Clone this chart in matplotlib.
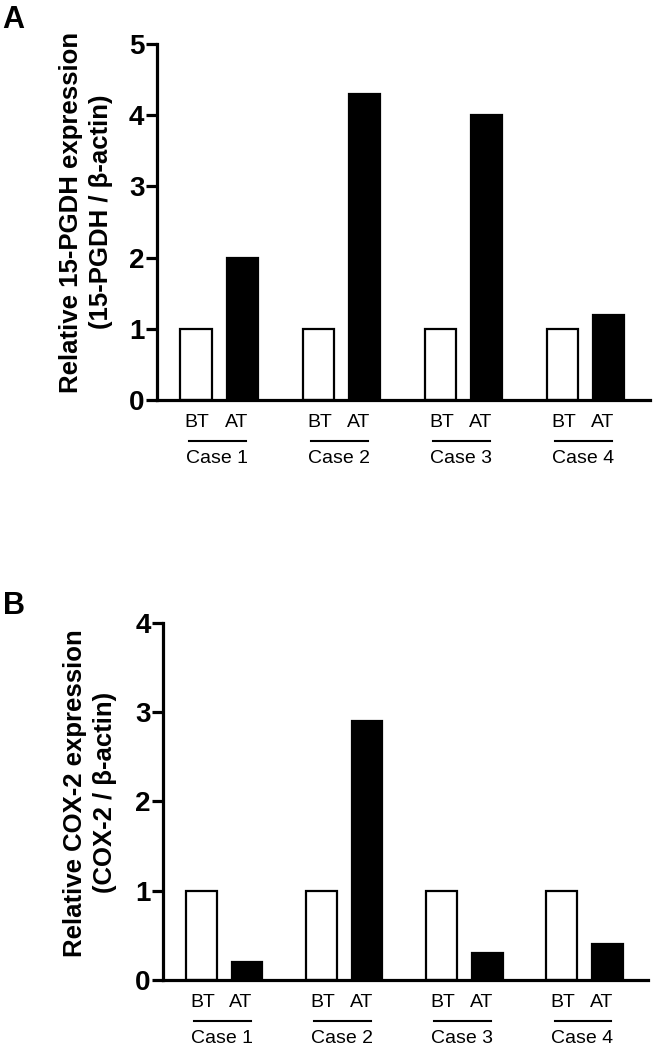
import numpy as np
import matplotlib
matplotlib.use('Agg')
import matplotlib.pyplot as plt
import matplotlib.transforms as mtransforms

plt.rcParams['font.family'] = ['Liberation Sans', 'DejaVu Sans']

cases = ['Case 1', 'Case 2', 'Case 3', 'Case 4']
pgdh_bt = [1, 1, 1, 1]
pgdh_at = [2.0, 4.3, 4.0, 1.2]
cox_bt = [1, 1, 1, 1]
cox_at = [0.2, 2.9, 0.3, 0.4]

fig = plt.figure(figsize=(6.61, 10.5), dpi=100)
axA = fig.add_axes([0.2375, 0.619, 0.746, 0.339])
axB = fig.add_axes([0.2466, 0.0667, 0.734, 0.340])


def draw_panel(ax, bt, at, ymax, ylabel, lab_x, lab_y):
    x = np.arange(len(cases))
    w = 0.255
    off = 0.19
    ax.bar(x - off, bt, w, color='white', edgecolor='black', linewidth=1.6)
    ax.bar(x + off, at, w, color='black', edgecolor='black', linewidth=1.6)
    ax.set_xlim(-0.51, 3.53)
    ax.set_ylim(0, ymax)
    ax.set_yticks(range(ymax + 1))
    ax.set_xticks([])
    for s in ['top', 'right']:
        ax.spines[s].set_visible(False)
    for s in ['left', 'bottom']:
        ax.spines[s].set_linewidth(2.3)
    ax.tick_params(axis='y', direction='out', length=8, width=2.3, labelsize=20, pad=1)
    for t in ax.get_yticklabels():
        t.set_fontweight('bold')
    ax.set_ylabel(ylabel, fontsize=18.5, fontweight='bold', linespacing=1.3)
    ax.yaxis.set_label_coords(lab_x, lab_y)

    trans = mtransforms.blended_transform_factory(ax.transData, ax.transAxes)
    for i, c in enumerate(cases):
        ax.text(i - off + 0.01, -0.062, 'BT', transform=trans, ha='center', va='center', fontsize=14)
        ax.text(i + off - 0.05, -0.062, 'AT', transform=trans, ha='center', va='center', fontsize=14)
        ax.plot([i - 0.25, i + 0.22], [-0.115, -0.115], transform=trans, color='black',
                linewidth=1.5, clip_on=False)
        ax.text(i - 0.02, -0.163, c, transform=trans, ha='center', va='center', fontsize=14)


draw_panel(axA, pgdh_bt, pgdh_at, 5,
           'Relative 15-PGDH expression\n(15-PGDH / \u03b2-actin)', -0.09, 0.528)
draw_panel(axB, cox_bt, cox_at, 4,
           'Relative COX-2 expression\n(COX-2 / \u03b2-actin)', -0.095, 0.524)

fig.text(0.004, 1 - 28 / 1050, 'A', fontsize=22, fontweight='bold', va='baseline')
fig.text(0.004, 1 - 614 / 1050, 'B', fontsize=22, fontweight='bold', va='baseline')

fig.savefig('out.png', dpi=100)
